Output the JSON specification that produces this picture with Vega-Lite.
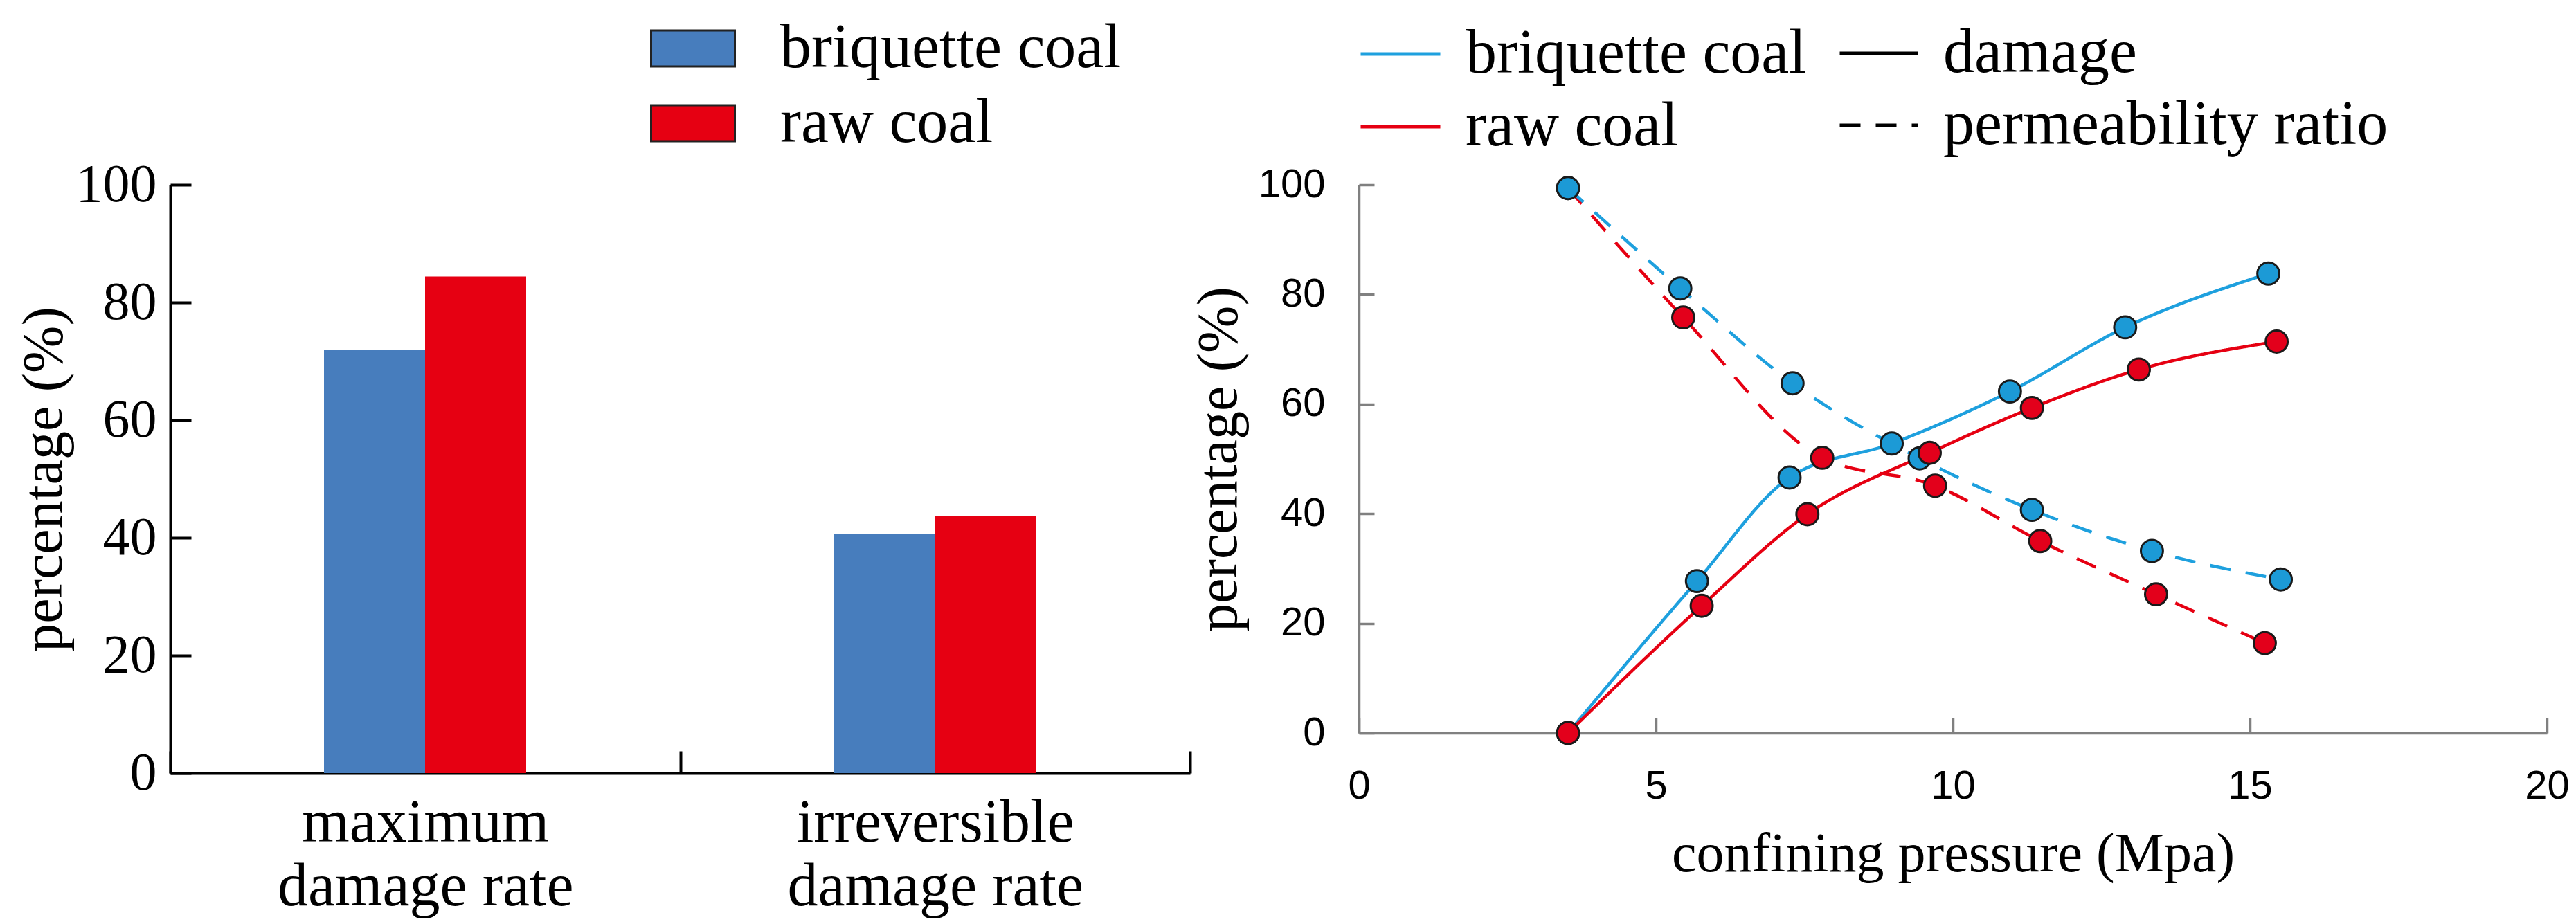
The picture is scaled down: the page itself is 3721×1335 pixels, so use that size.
{
  "$schema": "https://vega.github.io/schema/vega-lite/v6.json",
  "background": "white",
  "padding": {"left": 22, "top": 8, "right": 0, "bottom": 10},
  "spacing": 244,
  "bounds": "flush",
  "resolve": {
    "scale": {"color": "independent", "strokeDash": "independent"},
    "legend": {"color": "independent", "strokeDash": "independent"}
  },
  "config": {
    "view": {"stroke": null},
    "axis": {"grid": false, "labelFont": "Liberation Serif", "titleFont": "Liberation Serif", "labelColor": "black", "titleColor": "black", "titleFontWeight": "normal"},
    "legend": {"labelFont": "Liberation Serif", "labelColor": "black", "padding": 0}
  },
  "hconcat": [
    {
      "width": 1473,
      "height": 850,
      "data": {
        "values": [
          {"metric": "maximum damage rate", "coal": "briquette coal", "value": 72.0},
          {"metric": "maximum damage rate", "coal": "raw coal", "value": 84.4},
          {"metric": "irreversible damage rate", "coal": "briquette coal", "value": 40.6},
          {"metric": "irreversible damage rate", "coal": "raw coal", "value": 43.7}
        ]
      },
      "mark": {"type": "bar"},
      "encoding": {
        "x": {
          "field": "metric",
          "type": "nominal",
          "sort": null,
          "scale": {"paddingInner": 0, "paddingOuter": 0},
          "axis": {
            "title": null,
            "labelAngle": 0,
            "labelFontSize": 88,
            "labelLineHeight": 92,
            "labelPadding": 60,
            "labelLimit": 2000,
            "labelExpr": "datum.label ? [split(datum.label, ' ')[0], 'damage rate'] : ''",
            "tickBand": "extent",
            "tickSize": -32,
            "tickWidth": 4,
            "tickColor": "black",
            "domainColor": "black",
            "domainWidth": 4
          }
        },
        "xOffset": {
          "field": "coal",
          "sort": ["briquette coal", "raw coal"],
          "scale": {"paddingInner": 0, "paddingOuter": 0, "range": [222, 514]}
        },
        "y": {
          "field": "value",
          "type": "quantitative",
          "scale": {"domain": [0, 100]},
          "axis": {
            "title": "percentage (%)",
            "titleFontSize": 82,
            "titlePadding": 4,
            "values": [0, 20, 40, 60, 80, 100],
            "labelFontSize": 78,
            "labelPadding": 50,
            "tickSize": -30,
            "tickWidth": 4,
            "tickColor": "black",
            "domainColor": "black",
            "domainWidth": 4
          }
        },
        "color": {
          "field": "coal",
          "type": "nominal",
          "scale": {"domain": ["briquette coal", "raw coal"], "range": ["#477DBD", "#E60012"]},
          "legend": {
            "title": null,
            "orient": "none",
            "legendX": 693,
            "legendY": -259,
            "symbolType": "M-1,-0.43H1V0.43H-1Z",
            "symbolSize": 14641,
            "symbolStrokeColor": "#222222",
            "symbolStrokeWidth": 3,
            "symbolOpacity": 1,
            "labelFontSize": 90,
            "labelOffset": 64,
            "rowPadding": 1,
            "labelLimit": 0
          }
        }
      }
    },
    {
      "width": 1716,
      "height": 792,
      "data": {
        "values": [
          {"p": 3.52, "v": 0.0, "coal": "briquette coal", "type": "damage"},
          {"p": 5.69, "v": 27.7, "coal": "briquette coal", "type": "damage"},
          {"p": 7.25, "v": 46.6, "coal": "briquette coal", "type": "damage"},
          {"p": 8.97, "v": 52.8, "coal": "briquette coal", "type": "damage"},
          {"p": 10.96, "v": 62.3, "coal": "briquette coal", "type": "damage"},
          {"p": 12.9, "v": 74.0, "coal": "briquette coal", "type": "damage"},
          {"p": 15.31, "v": 83.8, "coal": "briquette coal", "type": "damage"},
          {"p": 3.52, "v": 99.4, "coal": "raw coal", "type": "permeability ratio"},
          {"p": 5.46, "v": 75.8, "coal": "raw coal", "type": "permeability ratio"},
          {"p": 7.8, "v": 50.2, "coal": "raw coal", "type": "permeability ratio"},
          {"p": 9.7, "v": 45.1, "coal": "raw coal", "type": "permeability ratio"},
          {"p": 11.47, "v": 35.0, "coal": "raw coal", "type": "permeability ratio"},
          {"p": 13.42, "v": 25.3, "coal": "raw coal", "type": "permeability ratio"},
          {"p": 15.25, "v": 16.4, "coal": "raw coal", "type": "permeability ratio"},
          {"p": 3.52, "v": 99.4, "coal": "briquette coal", "type": "permeability ratio"},
          {"p": 5.41, "v": 81.1, "coal": "briquette coal", "type": "permeability ratio"},
          {"p": 7.3, "v": 63.8, "coal": "briquette coal", "type": "permeability ratio"},
          {"p": 9.44, "v": 50.1, "coal": "briquette coal", "type": "permeability ratio"},
          {"p": 11.33, "v": 40.7, "coal": "briquette coal", "type": "permeability ratio"},
          {"p": 13.35, "v": 33.2, "coal": "briquette coal", "type": "permeability ratio"},
          {"p": 15.52, "v": 28.0, "coal": "briquette coal", "type": "permeability ratio"},
          {"p": 3.52, "v": 0.0, "coal": "raw coal", "type": "damage"},
          {"p": 5.77, "v": 23.2, "coal": "raw coal", "type": "damage"},
          {"p": 7.55, "v": 39.9, "coal": "raw coal", "type": "damage"},
          {"p": 9.61, "v": 51.1, "coal": "raw coal", "type": "damage"},
          {"p": 11.33, "v": 59.3, "coal": "raw coal", "type": "damage"},
          {"p": 13.13, "v": 66.3, "coal": "raw coal", "type": "damage"},
          {"p": 15.45, "v": 71.4, "coal": "raw coal", "type": "damage"}
        ]
      },
      "encoding": {
        "x": {
          "field": "p",
          "type": "quantitative",
          "scale": {"domain": [0, 20], "nice": false},
          "axis": {
            "title": "confining pressure (Mpa)",
            "titleFontSize": 80,
            "titlePadding": 30,
            "values": [0, 5, 10, 15, 20],
            "labelFont": "Liberation Sans",
            "labelFontSize": 58,
            "labelPadding": 70,
            "labelFlush": false,
            "tickSize": -22,
            "tickWidth": 3.5,
            "tickColor": "#808080",
            "domainColor": "#808080",
            "domainWidth": 3.5
          }
        },
        "y": {
          "field": "v",
          "type": "quantitative",
          "scale": {"domain": [0, 100], "nice": false},
          "axis": {
            "title": "percentage (%)",
            "titleFontSize": 82,
            "titlePadding": 15,
            "values": [0, 20, 40, 60, 80, 100],
            "labelFont": "Liberation Sans",
            "labelFontSize": 58,
            "labelPadding": 71,
            "labelFlush": false,
            "tickSize": -22,
            "tickWidth": 3.5,
            "tickColor": "#808080",
            "domainColor": "#808080",
            "domainWidth": 3.5
          }
        }
      },
      "layer": [
        {
          "mark": {"type": "line", "strokeWidth": 4.5, "interpolate": "monotone"},
          "encoding": {
            "color": {
              "field": "coal",
              "type": "nominal",
              "scale": {"domain": ["briquette coal", "raw coal"], "range": ["#1EA0DE", "#E60012"]},
              "legend": {
                "title": null,
                "orient": "none",
                "legendX": 0,
                "legendY": -249,
                "symbolType": "stroke",
                "symbolSize": 13225,
                "symbolStrokeWidth": 5,
                "labelFontSize": 90,
                "labelOffset": 34,
                "rowPadding": -6,
                "labelLimit": 0
              }
            },
            "strokeDash": {
              "field": "type",
              "type": "nominal",
              "scale": {"domain": ["damage", "permeability ratio"], "range": [[1, 0], [30, 22]]},
              "legend": {
                "title": null,
                "orient": "none",
                "legendX": 692,
                "legendY": -249,
                "symbolType": "stroke",
                "symbolSize": 12769,
                "symbolStrokeWidth": 5,
                "symbolStrokeColor": "black",
                "labelFontSize": 90,
                "labelOffset": 34,
                "rowPadding": -6,
                "labelLimit": 0
              }
            }
          }
        },
        {
          "mark": {"type": "point", "shape": "circle", "filled": true, "size": 1018, "stroke": "#1a1a1a", "strokeWidth": 3, "opacity": 1},
          "encoding": {
            "fill": {
              "field": "coal",
              "type": "nominal",
              "scale": {"domain": ["briquette coal", "raw coal"], "range": ["#1C9AD6", "#E3001B"]},
              "legend": null
            }
          }
        }
      ]
    }
  ]
}
